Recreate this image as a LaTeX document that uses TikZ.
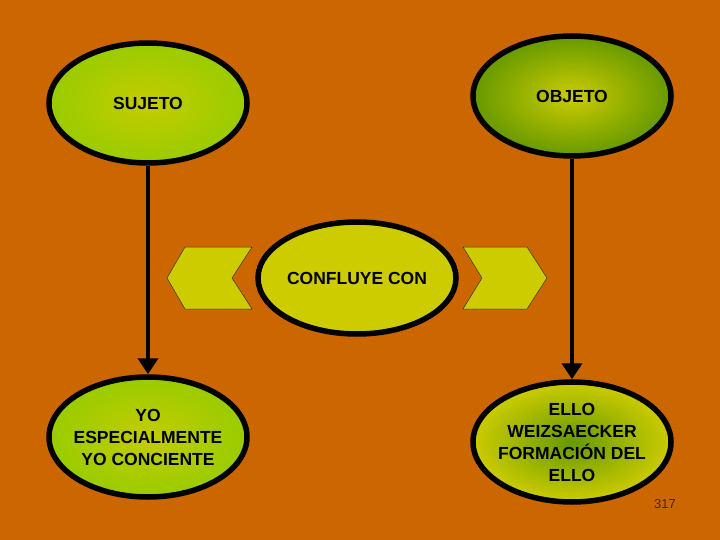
\documentclass[tikz,border=0pt]{standalone}
\usepackage{fontspec}
\setmainfont{Liberation Sans}
\usetikzlibrary{shapes.geometric,arrows.meta}
\definecolor{bg}{HTML}{CC6600}
\definecolor{yel}{HTML}{CCCC00}
\definecolor{lgreen}{HTML}{99CC00}
\definecolor{dgreen}{HTML}{669900}
\definecolor{pgnum}{HTML}{552200}
\tikzset{
  oval/.style={ellipse, draw=black, line width=5.5pt, minimum width=198pt, minimum height=120pt,
    inner sep=-12pt, align=center, font=\fontsize{17.5}{22}\selectfont\bfseries},
  lightoval/.style={oval, inner color=yel!85!lgreen, outer color=lgreen},
  darkoval/.style={oval, inner color=yel, outer color=dgreen},
  invoval/.style={oval, inner color=dgreen, outer color=yel},
  flatoval/.style={oval, fill=yel, minimum height=112pt},
  chev/.style={fill=yel, draw=black!80, line width=0.5pt},
  link/.style={line width=4pt, -{Triangle[width=20pt,length=16pt]}}
}
\begin{document}
\begin{tikzpicture}[x=1pt,y=-1pt]
\fill[bg] (0,0) rectangle (720,540);
\useasboundingbox (0,0) rectangle (720,540);
\node[lightoval] (sujeto) at (148,103) {SUJETO};
\node[darkoval] (objeto) at (572,96) {OBJETO};
\node[lightoval] (yo) at (148,437) {YO\\ESPECIALMENTE\\YO CONCIENTE};
\node[invoval] (ello) at (572,442) {ELLO\\WEIZSAECKER\\FORMACIÓN DEL\\ELLO};
\node[flatoval] (conf) at (357,278) {CONFLUYE CON};
\draw[chev] (167,278) -- (185,247) -- (252,247) -- (232,278) -- (252,309) -- (185,309) -- cycle;
\draw[chev] (463,247) -- (527,247) -- (547,278) -- (527,309) -- (463,309) -- (482,278) -- cycle;
\draw[link] (sujeto.south) -- (yo.north);
\draw[link] (objeto.south) -- (ello.north);
\node[text=pgnum, font=\fontsize{13}{15}\selectfont] (pg) at (665,504) {317};
\end{tikzpicture}
\end{document}
